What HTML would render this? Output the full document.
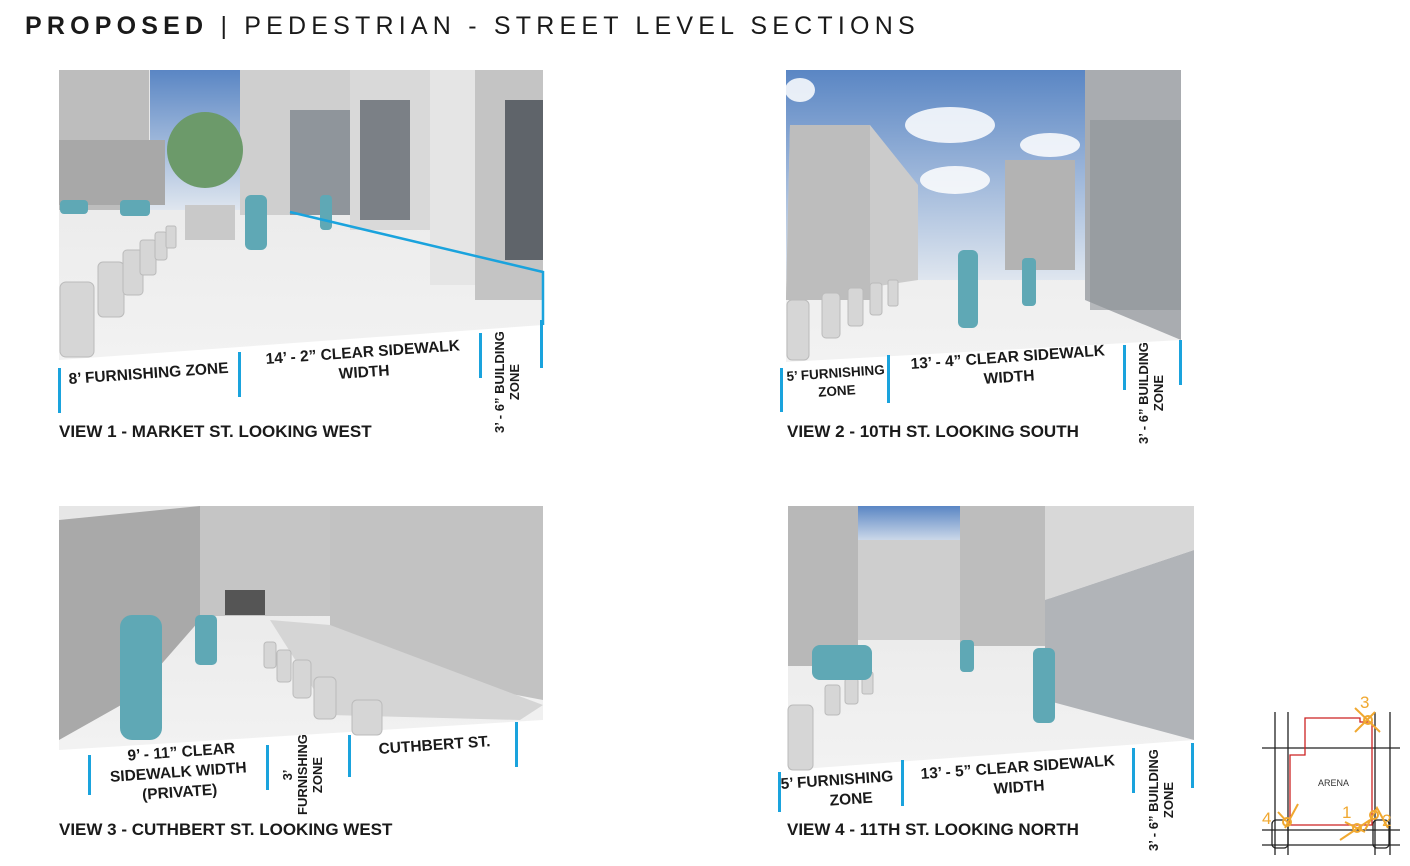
<!DOCTYPE html>
<html><head><meta charset="utf-8"><style>
body{margin:0;width:1410px;height:866px;background:#fff;position:relative;overflow:hidden;font-family:"Liberation Sans",sans-serif;color:#1a1a1a}
.t{position:absolute;left:25px;top:12px;font-size:25px;letter-spacing:5.2px;white-space:nowrap}
.l{position:absolute;font-weight:bold;font-size:15.5px;white-space:nowrap;text-align:center;line-height:20px;transform:rotate(-4deg);transform-origin:left top}
.v{position:absolute;font-weight:bold;font-size:17px;white-space:nowrap}
.b{position:absolute;width:3px;background:#1aa3dd}
.r{position:absolute;font-weight:bold;font-size:13px;white-space:nowrap;transform:rotate(-90deg);transform-origin:left top;line-height:15px;text-align:center}
svg{position:absolute;left:0;top:0}
</style></head><body>
<svg width="1410" height="866">
<defs>
<linearGradient id="sky" x1="0" y1="0" x2="0" y2="1"><stop offset="0" stop-color="#5a86c4"/><stop offset="1" stop-color="#dfe6ef"/></linearGradient>
<linearGradient id="fl" x1="0" y1="0" x2="0" y2="1"><stop offset="0" stop-color="#e6e6e6"/><stop offset="1" stop-color="#f2f2f2"/></linearGradient>
</defs>
<polygon points="59,70 543,70 543,325 59,360" fill="url(#fl)"/>
<rect x="150" y="70" width="150" height="140" fill="url(#sky)"/>
<rect x="59" y="70" width="90" height="140" fill="#bdbdbd"/>
<polygon points="59,140 165,140 165,205 59,205" fill="#a8a8a8"/>
<rect x="240" y="70" width="110" height="145" fill="#cfcfcf"/>
<rect x="290" y="110" width="60" height="105" fill="#8f959b"/>
<rect x="350" y="70" width="125" height="160" fill="#d9d9d9"/>
<rect x="360" y="100" width="50" height="120" fill="#7b8086"/>
<rect x="430" y="70" width="45" height="215" fill="#e5e5e5"/>
<rect x="475" y="70" width="68" height="230" fill="#c4c4c4"/>
<rect x="505" y="100" width="38" height="160" fill="#5f646a"/>
<circle cx="205" cy="150" r="38" fill="#6c9a6a"/>
<rect x="185" y="205" width="50" height="35" fill="#c9c9c9"/>
<g fill="#d6d6d6" stroke="#bbb"><rect x="60" y="282" width="34" height="75" rx="6"/><rect x="98" y="262" width="26" height="55" rx="5"/><rect x="123" y="250" width="20" height="45" rx="4"/><rect x="140" y="240" width="16" height="35" rx="3"/><rect x="155" y="232" width="12" height="28" rx="3"/><rect x="166" y="226" width="10" height="22" rx="2"/></g>
<g fill="#5fa8b5"><rect x="245" y="195" width="22" height="55" rx="6"/><rect x="320" y="195" width="12" height="35" rx="4"/><rect x="60" y="200" width="28" height="14" rx="4"/><rect x="120" y="200" width="30" height="16" rx="4"/></g>
<polyline points="290,212 543,272 543,325" fill="none" stroke="#1aa3dd" stroke-width="2.5"/>
<polygon points="786,70 1181,70 1181,340 786,362" fill="url(#fl)"/>
<rect x="786" y="70" width="310" height="210" fill="url(#sky)"/>
<g fill="#fff" opacity=".85"><ellipse cx="950" cy="125" rx="45" ry="18"/><ellipse cx="955" cy="180" rx="35" ry="14"/><ellipse cx="1050" cy="145" rx="30" ry="12"/><ellipse cx="800" cy="90" rx="15" ry="12"/></g>
<polygon points="790,125 870,125 918,185 918,280 786,300" fill="#cbcbcb"/>
<polygon points="790,125 870,125 870,300 786,300" fill="#bdbdbd"/>
<rect x="1005" y="160" width="70" height="110" fill="#b3b3b3"/>
<polygon points="1085,70 1181,70 1181,340 1085,300" fill="#a9acb0"/>
<rect x="1090" y="120" width="91" height="190" fill="#8d9297" opacity=".6"/>
<g fill="#d6d6d6" stroke="#bbb"><rect x="787" y="300" width="22" height="60" rx="5"/><rect x="822" y="293" width="18" height="45" rx="4"/><rect x="848" y="288" width="15" height="38" rx="3"/><rect x="870" y="283" width="12" height="32" rx="3"/><rect x="888" y="280" width="10" height="26" rx="2"/></g>
<g fill="#5fa8b5"><rect x="958" y="250" width="20" height="78" rx="6"/><rect x="1022" y="258" width="14" height="48" rx="4"/></g>
<polygon points="59,506 543,506 543,720 59,750" fill="url(#fl)"/>
<polygon points="59,520 200,506 200,620 130,700 59,740" fill="#a9a9a9"/>
<rect x="200" y="506" width="130" height="110" fill="#c5c5c5"/>
<rect x="225" y="590" width="40" height="25" fill="#555"/>
<polygon points="330,506 543,506 543,700 330,660" fill="#c2c2c2"/>
<polygon points="270,620 330,625 543,705 520,720 330,715" fill="#d5d5d5"/>
<g fill="#d6d6d6" stroke="#bbb"><rect x="352" y="700" width="30" height="35" rx="5"/><rect x="314" y="677" width="22" height="42" rx="5"/><rect x="293" y="660" width="18" height="38" rx="4"/><rect x="277" y="650" width="14" height="32" rx="3"/><rect x="264" y="642" width="12" height="26" rx="3"/></g>
<g fill="#5fa8b5"><rect x="120" y="615" width="42" height="125" rx="12"/><rect x="195" y="615" width="22" height="50" rx="5"/></g>
<polygon points="788,506 1194,506 1194,740 788,770" fill="url(#fl)"/>
<rect x="855" y="506" width="110" height="40" fill="url(#sky)"/>
<rect x="788" y="506" width="70" height="160" fill="#b8b8b8"/>
<rect x="858" y="540" width="120" height="100" fill="#cecece"/>
<rect x="960" y="506" width="90" height="140" fill="#bdbdbd"/>
<polygon points="1045,600 1194,550 1194,740 1045,700" fill="#b1b4b8"/>
<polygon points="1045,506 1194,506 1194,550 1045,600" fill="#d8d8d8"/>
<g fill="#d6d6d6" stroke="#bbb"><rect x="788" y="705" width="25" height="65" rx="5"/><rect x="825" y="685" width="15" height="30" rx="3"/><rect x="845" y="678" width="13" height="26" rx="3"/><rect x="862" y="672" width="11" height="22" rx="2"/></g>
<g fill="#5fa8b5"><rect x="812" y="645" width="60" height="35" rx="8"/><rect x="1033" y="648" width="22" height="75" rx="6"/><rect x="960" y="640" width="14" height="32" rx="4"/></g>
<g stroke="#222" fill="none" stroke-width="1.3">
<path d="M1275 712 V855 M1288 712 V855 M1375 712 V855 M1390 712 V855 M1262 748 H1400 M1262 830 H1400 M1262 845 H1400"/>
<rect x="1272" y="820" width="16" height="28" rx="4"/><rect x="1373" y="820" width="16" height="28" rx="4"/>
</g>
<path d="M1290 755 H1305 V718 H1360 V722 H1372 V825 H1290 Z" fill="none" stroke="#c22" stroke-width="1.3"/>
<text x="1318" y="786" font-size="9" font-family="Liberation Sans" fill="#333">ARENA</text>
<g stroke="#f0a830" stroke-width="2" fill="none"><circle cx="1368" cy="720" r="4"/><path d="M1355 708 L1380 732 M1355 732 L1375 712"/><circle cx="1287" cy="822" r="4"/><path d="M1278 812 L1290 825 M1285 828 L1298 804"/><circle cx="1357" cy="828" r="4"/><path d="M1345 822 L1365 832 M1340 840 L1370 820"/><circle cx="1374" cy="815" r="4"/><path d="M1365 830 L1377 808 L1388 828"/></g>
<g fill="#f0a830" font-family="Liberation Sans" font-size="17"><text x="1360" y="708">3</text><text x="1342" y="818">1</text><text x="1382" y="826">2</text><text x="1262" y="824">4</text></g>
</svg>
<div class="t"><b>PROPOSED</b> | PEDESTRIAN - STREET LEVEL SECTIONS</div>

<div class="b" style="left:58px;top:368px;height:45px"></div>
<div class="b" style="left:238px;top:352px;height:45px"></div>
<div class="b" style="left:479px;top:333px;height:45px"></div>
<div class="b" style="left:540px;top:320px;height:48px"></div>
<div class="l" style="left:68px;top:370px">8’ FURNISHING ZONE</div>
<div class="l" style="left:265px;top:350px">14’ - 2” CLEAR SIDEWALK<br>WIDTH</div>
<div class="r" style="left:492px;top:437px;width:110px">3’ - 6” BUILDING<br>ZONE</div>
<div class="v" style="left:59px;top:422px">VIEW 1 - MARKET ST. LOOKING WEST</div>

<div class="b" style="left:780px;top:368px;height:44px"></div>
<div class="b" style="left:887px;top:355px;height:48px"></div>
<div class="b" style="left:1123px;top:345px;height:45px"></div>
<div class="b" style="left:1179px;top:340px;height:45px"></div>
<div class="l" style="left:786px;top:368px;font-size:13.5px;line-height:18px">5’ FURNISHING<br>ZONE</div>
<div class="l" style="left:910px;top:355px">13’ - 4” CLEAR SIDEWALK<br>WIDTH</div>
<div class="r" style="left:1136px;top:448px;width:110px">3’ - 6” BUILDING<br>ZONE</div>
<div class="v" style="left:787px;top:422px">VIEW 2 - 10TH ST. LOOKING SOUTH</div>

<div class="b" style="left:88px;top:755px;height:40px"></div>
<div class="b" style="left:266px;top:745px;height:45px"></div>
<div class="b" style="left:348px;top:735px;height:42px"></div>
<div class="b" style="left:515px;top:722px;height:45px"></div>
<div class="l" style="left:108px;top:748px;line-height:20px">&nbsp;&nbsp;9’ - 11” CLEAR<br>SIDEWALK WIDTH<br>(PRIVATE)</div>
<div class="l" style="left:378px;top:740px">CUTHBERT ST.</div>
<div class="r" style="left:280px;top:815px;width:80px">3’<br>FURNISHING<br>ZONE</div>
<div class="v" style="left:59px;top:820px">VIEW 3 - CUTHBERT ST. LOOKING WEST</div>

<div class="b" style="left:778px;top:772px;height:40px"></div>
<div class="b" style="left:901px;top:760px;height:46px"></div>
<div class="b" style="left:1132px;top:748px;height:45px"></div>
<div class="b" style="left:1191px;top:743px;height:45px"></div>
<div class="l" style="left:780px;top:775px">5’ FURNISHING<br>&nbsp;&nbsp;&nbsp;&nbsp;&nbsp;&nbsp;ZONE</div>
<div class="l" style="left:920px;top:765px">13’ - 5” CLEAR SIDEWALK<br>WIDTH</div>
<div class="r" style="left:1146px;top:855px;width:110px">3’ - 6” BUILDING<br>ZONE</div>
<div class="v" style="left:787px;top:820px">VIEW 4 - 11TH ST. LOOKING NORTH</div>
</body></html>
